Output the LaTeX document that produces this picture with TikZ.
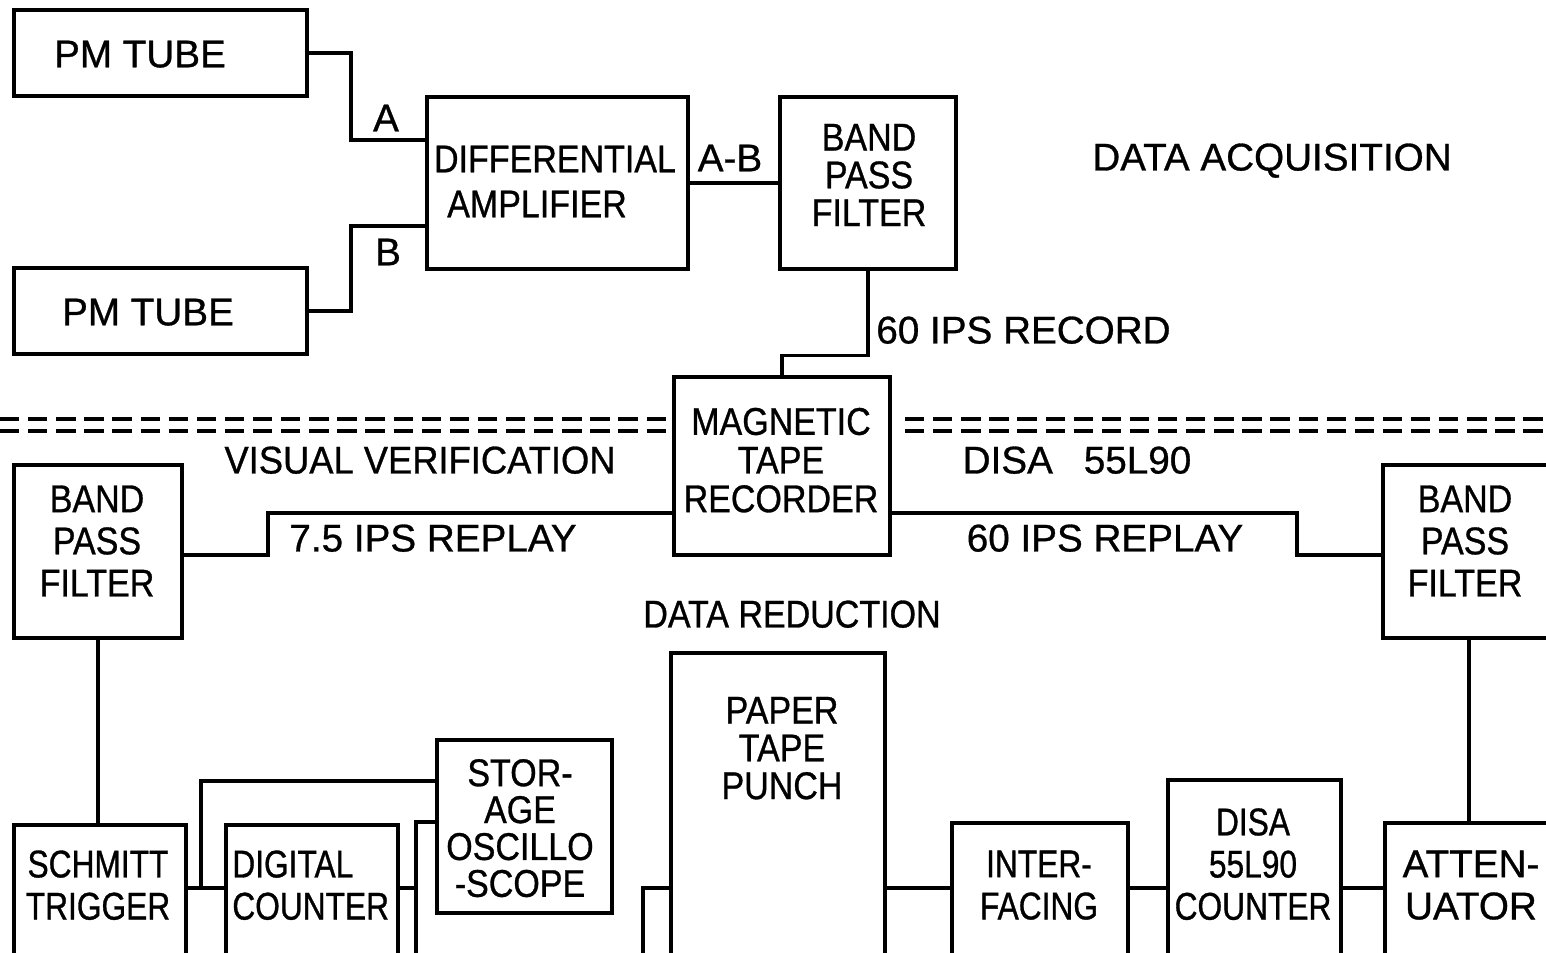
\documentclass[tikz,border=0pt]{standalone}
\usepackage{fontspec}
\setmainfont{Liberation Sans}[FakeBold=0.8]
\newfontfamily\nfont{Liberation Sans}[FakeStretch=0.88,FakeBold=0.8]
\newfontfamily\mfont{Liberation Sans}[FakeStretch=0.94,FakeBold=0.8]
\newfontfamily\cfont{Liberation Sans}[FakeStretch=0.82,FakeBold=0.8]
\usetikzlibrary{fit}
\tikzset{
  box/.style={draw, line width=2pt, inner sep=0pt},
  wire/.style={line width=1.9pt},
  dashline/.style={line width=2pt, dash pattern=on 11pt off 5pt},
  lbl/.style={inner sep=0pt, text depth=0pt, font=\fontsize{22}{24}\selectfont},
  mlbl/.style={lbl, font=\mfont\fontsize{22}{24}\selectfont},
  blbl/.style={inner sep=0pt, text depth=0pt, align=center, font=\nfont\fontsize{22}{#1}\selectfont},
  blbl/.default=22,
  clbl/.style={inner sep=0pt, text depth=0pt, align=center, font=\cfont\fontsize{22}{#1}\selectfont},
  clbl/.default=24,
}
\begin{document}
\begin{tikzpicture}[x=0.02cm, y=-0.02cm]
\useasboundingbox (0,0) rectangle (1546,953);
\clip (0,0) rectangle (1546,953);

% boxes
\node[box, fit={(14,10) (307,96)}] (pm1) {};
\node[box, fit={(14,268) (307,354)}] (pm2) {};
\node[box, fit={(427,97) (688,269)}] (diff) {};
\node[box, fit={(780,97) (956,269)}] (bpf1) {};
\node[box, fit={(674,377) (890,555)}] (tape) {};
\node[box, fit={(14,465) (182,638)}] (bpf2) {};
\node[box, fit={(1383,465) (1580,638)}] (bpf3) {};
\node[box, fit={(671,653) (885,990)}] (punch) {};
\node[box, fit={(14,825) (186,990)}] (schmitt) {};
\node[box, fit={(226,825) (398,990)}] (digital) {};
\node[box, fit={(437,740) (612,913)}] (storage) {};
\node[box, fit={(952,823) (1128,990)}] (inter) {};
\node[box, fit={(1168,780) (1341,990)}] (disa) {};
\node[box, fit={(1385,823) (1580,990)}] (atten) {};

% connectors
\draw[wire] (pm1.east) -| (351,140) -- (diff.west |- 0,140);
\draw[wire] (pm2.east) -| (351,226) -- (diff.west |- 0,226);
\draw[wire] (diff.east) -- (bpf1.west);
\draw[wire] (bpf1.south) -- ++(0,85) -| (tape.north);
\draw[wire] (tape.west |- 0,513) -| (268,555) -- (bpf2.east |- 0,555);
\draw[wire] (tape.east |- 0,513) -| (1297,555) -- (bpf3.west |- 0,555);
\draw[wire] (bpf2.south) -- (bpf2.south |- schmitt.north);
\draw[wire] (bpf3.south -| 1469,0) -- (atten.north -| 1469,0);
\draw[wire] (schmitt.east |- 0,888) -- (digital.west |- 0,888);
\coordinate (j1) at (201,888);
\draw[wire] (j1) |- (storage.west |- 0,781);
\coordinate (j2) at (416,888);
\coordinate (b2) at (416,970);
\draw[wire] (digital.east |- 0,888) -- (j2);
\draw[wire] (b2) |- (storage.west |- 0,822);
\coordinate (b3) at (643,970);
\draw[wire] (b3) |- (punch.west |- 0,888);
\draw[wire] (punch.east |- 0,888) -- (inter.west |- 0,888);
\draw[wire] (inter.east |- 0,888) -- (disa.west |- 0,888);
\draw[wire] (disa.east |- 0,888) -- (atten.west |- 0,888);

% dashed separator
\draw[dashline] (0,419) -- (668,419);
\draw[dashline] (0,431) -- (668,431);
\draw[dashline] (905,419) -- (1546,419);
\draw[dashline] (905,431) -- (1546,431);

% texts
\node[lbl] (tpm1) at (140,54) {PM TUBE};
\node[lbl] (tpm2) at (148,312) {PM TUBE};
\node[lbl] (ta) at (386,118) {A};
\node[lbl] (tb) at (388,252) {B};
\node[blbl] (tdiff1) at (555,159) {DIFFERENTIAL};
\node[blbl] (tdiff2) at (537,204) {AMPLIFIER};
\node[lbl] (tab) at (730,158) {A-B};
\node[blbl=21.5] (tbpf1) at (869,175) {BAND\\PASS\\FILTER};
\node[lbl] (tacq) at (1272,157) {DATA ACQUISITION};
\node[lbl, anchor=west] (trec) at (876,330) {60 IPS RECORD};
\node[blbl=22] (ttape) at (781,460) {MAGNETIC\\TAPE\\RECORDER};
\node[mlbl] (tvis) at (420,460) {VISUAL VERIFICATION};
\node[lbl] (tdisa) at (1077,460) {DISA\hspace{0.8em}55L90};
\node[blbl=24] (tbpf2) at (97,541) {BAND\\PASS\\FILTER};
\node[lbl] (t75) at (433,538) {7.5 IPS REPLAY};
\node[lbl] (t60) at (1105,538) {60 IPS REPLAY};
\node[blbl=24] (tbpf3) at (1465,541) {BAND\\PASS\\FILTER};
\node[blbl] (tred) at (792,614) {DATA REDUCTION};
\node[blbl=21.5] (tpunch) at (782,748) {PAPER\\TAPE\\PUNCH};
\node[blbl=21] (tstor) at (520,828) {STOR-\\AGE\\OSCILLO\\-SCOPE};
\node[clbl=24] (tschmitt) at (98,885) {SCHMITT\\TRIGGER};
\node[clbl=24, align=left, anchor=west] (tdig) at (232,885) {DIGITAL\\COUNTER};
\node[clbl=24] (tinter) at (1039,885) {INTER-\\FACING};
\node[clbl=24] (tdisac) at (1253,864) {DISA\\55L90\\COUNTER};
\node[lbl, align=center, font=\fontsize{22}{24}\selectfont] (tatten) at (1471,885) {ATTEN-\\UATOR};
\end{tikzpicture}
\end{document}
